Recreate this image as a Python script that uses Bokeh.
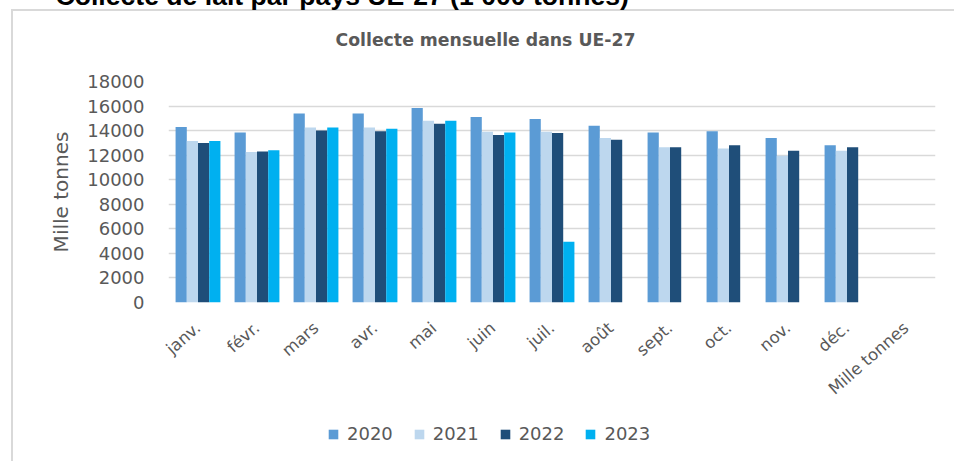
from bokeh.plotting import figure
from bokeh.models import (FactorRange, Range1d, FixedTicker, Legend, LegendItem,
                          Title, ColumnDataSource)
from bokeh.layouts import column
from bokeh.transform import dodge
from bokeh.embed import file_html
from bokeh.resources import INLINE

months = ["janv.", "févr.", "mars", "avr.", "mai", "juin", "juil.", "août",
          "sept.", "oct.", "nov.", "déc.", "Mille tonnes"]
years = ["2020", "2021", "2022", "2023"]
v2020 = [14300, 13850, 15400, 15400, 15850, 15100, 14950, 14400, 13850, 13950, 13400, 12800]
v2021 = [13150, 12250, 14250, 14250, 14800, 13900, 13900, 13400, 12650, 12550, 11950, 12350]
v2022 = [13000, 12300, 14000, 13950, 14550, 13650, 13800, 13250, 12650, 12800, 12350, 12650]
v2023 = [13150, 12400, 14250, 14150, 14800, 13850, 4950]
y_ticks = [0, 2000, 4000, 6000, 8000, 10000, 12000, 14000, 16000, 18000]
colors = ["#5B9BD5", "#BDD7EE", "#1F4E79", "#00B0F0"]
series = [v2020, v2021, v2022, v2023]
offsets = [-0.285, -0.095, 0.095, 0.285]

S = 42                       # whole layout pulled up by S px so the page heading is cut off
W = 954
LEG_TOP = 415                # page y where the legend strip starts
H = LEG_TOP + S              # main figure canvas height
LH = 461 - LEG_TOP           # legend strip height
FL, FR, FT, FB = 168, 935, 81 + S, 302 + S  # frame edges in canvas px

box_css = ("linear-gradient(#D9D9D9,#D9D9D9) 11px %dpx / 2px 100%% no-repeat, "
           "linear-gradient(#D9D9D9,#D9D9D9) 11px %dpx / 100%% 2px no-repeat, #ffffff") % (9 + S, 9 + S)

FONT = "DejaVu Sans"
GREY = "#595959"

p = figure(x_range=FactorRange(factors=months, range_padding=0),
           y_range=Range1d(0, 18000),
           width=W, height=H, output_backend="svg", toolbar_location=None,
           min_border_left=FL, min_border_right=W - FR,
           min_border_top=FT, min_border_bottom=H - FB)
p.outline_line_color = None
p.background_fill_color = "white"
p.border_fill_alpha = 0

sources = []
for vals, col, off in zip(series, colors, offsets):
    src = ColumnDataSource(dict(m=months[:len(vals)], v=vals))
    sources.append(src)
    p.vbar(x=dodge("m", off, range=p.x_range), top="v", width=0.19,
           source=src, fill_color=col, line_color=None)

p.yaxis.ticker = FixedTicker(ticks=y_ticks)
p.yaxis.axis_line_color = None
p.yaxis.major_tick_line_color = None
p.yaxis.minor_tick_line_color = None
p.yaxis.major_label_standoff = 18
p.yaxis.major_label_text_font = FONT
p.yaxis.major_label_text_font_size = "18px"
p.yaxis.major_label_text_color = GREY
p.yaxis.axis_label = "Mille tonnes"
p.yaxis.axis_label_text_font = FONT
p.yaxis.axis_label_text_font_size = "20px"
p.yaxis.axis_label_text_font_style = "normal"
p.yaxis.axis_label_text_color = GREY
p.yaxis.axis_label_standoff = 11

p.xaxis.axis_line_color = None
p.xaxis.major_tick_line_color = None
p.xaxis.minor_tick_line_color = None
p.xaxis.major_label_orientation = 0.72
p.xaxis.major_label_standoff = 17
p.xaxis.major_label_text_font = FONT
p.xaxis.major_label_text_font_size = "16.5px"
p.xaxis.major_label_text_color = GREY

p.xgrid.grid_line_color = None
p.ygrid.grid_line_color = "#D9D9D9"
p.ygrid.grid_line_width = 1.5

# stacked above the frame: spacer, chart title, page heading
p.add_layout(Title(text=" ", text_font_size="1px", standoff=28), "above")
p.add_layout(Title(text="Collecte mensuelle dans UE-27", align="left", offset=335 - FL,
                   standoff=2, text_font=FONT, text_font_style="bold",
                   text_font_size="17.3px", text_color=GREY), "above")
p.add_layout(Title(text="Collecte de lait par pays UE-27  (1 000 tonnes)", align="left",
                   offset=55 - FL, standoff=31, text_font="Liberation Sans",
                   text_font_style="bold", text_font_size="26.6px", text_color="black"), "above")

# legend strip: same series as zero-size bars (only their legend swatches show)
lf = figure(width=W, height=LH, x_range=FactorRange(factors=months, range_padding=0),
            y_range=Range1d(0, 18000),
            output_backend="svg", toolbar_location=None, min_border=0,
            x_axis_location=None, y_axis_location=None)
lf.outline_line_color = None
lf.background_fill_alpha = 0
lf.border_fill_alpha = 0
lf.grid.visible = False
leg_renderers = []
for src, col, off in zip(sources, colors, offsets):
    leg_renderers.append(lf.vbar(x=dodge("m", off, range=lf.x_range), top="v", bottom="v",
                                 width=0, source=src, fill_color=col, line_color=None))

legend = Legend(items=[LegendItem(label=y, renderers=[r]) for y, r in zip(years, leg_renderers)],
                orientation="horizontal", location=(329 - FL - 2, LH - 29),
                glyph_width=12, glyph_height=12, label_standoff=8, spacing=20,
                padding=0, margin=0, border_line_color=None, background_fill_alpha=0,
                label_text_font=FONT, label_text_font_size="18px", label_text_color=GREY)
lf.add_layout(legend)

root = column(p, lf, spacing=0)
root.styles = {"margin-top": "-%dpx" % S, "background": box_css}
open("out.html", "w").write(file_html(root, INLINE))
